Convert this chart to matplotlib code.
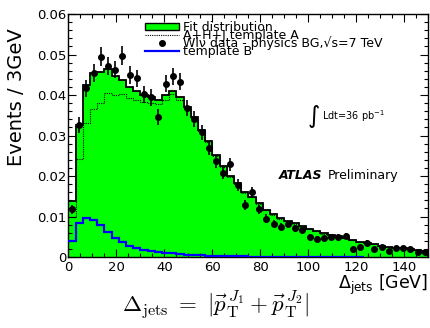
import matplotlib
matplotlib.use('Agg')
import matplotlib.pyplot as plt
from matplotlib.ticker import MultipleLocator, FuncFormatter
from matplotlib.patches import Patch
from matplotlib.lines import Line2D
import numpy as np

plt.rcParams['font.family'] = ['DejaVu Sans']
plt.rcParams['mathtext.fontset'] = 'dejavusans'

# 3 GeV bins from 0 to 150
bin_edges = np.arange(0, 151, 3)

fit_distribution = [
    0.0138, 0.0326, 0.0425, 0.0455, 0.0457, 0.0465, 0.0448, 0.0438, 0.0421, 0.0410,
    0.0400, 0.0395, 0.0389, 0.0400, 0.0411, 0.0396, 0.0371, 0.0345, 0.0313, 0.0286,
    0.0252, 0.0224, 0.0199, 0.0182, 0.0161, 0.0149, 0.0133, 0.0117, 0.0105, 0.0096,
    0.0090, 0.0083, 0.0076, 0.0070, 0.0064, 0.0059, 0.0055, 0.0051, 0.0047, 0.0042,
    0.0038, 0.0034, 0.0031, 0.0028, 0.0025, 0.0023, 0.0021, 0.0019, 0.0017, 0.0015,
]

template_a = [
    0.0100, 0.0243, 0.0330, 0.0365, 0.0380, 0.0405, 0.0401, 0.0402, 0.0393, 0.0389,
    0.0383, 0.0381, 0.0377, 0.0389, 0.0402, 0.0388, 0.0365, 0.0340, 0.0310, 0.0283,
    0.0249, 0.0222, 0.0197, 0.0180, 0.0159, 0.0148, 0.0132, 0.0116, 0.0104, 0.0095,
    0.0089, 0.0082, 0.0075, 0.0069, 0.0063, 0.0058, 0.0054, 0.0050, 0.0046, 0.0041,
    0.0037, 0.0034, 0.0031, 0.0028, 0.0025, 0.0023, 0.0021, 0.0019, 0.0017, 0.0015,
]

# template B only filled up to 123 GeV
template_b = [
    0.0040, 0.0084, 0.0097, 0.0091, 0.0078, 0.0061, 0.0048, 0.0036, 0.0027, 0.0021,
    0.0017, 0.0014, 0.0012, 0.0011, 0.0009, 0.0008, 0.0006, 0.0005, 0.0004, 0.0003,
    0.0003, 0.0002, 0.0002, 0.0002, 0.0002, 0.0001, 0.0001, 0.0001, 0.0001, 0.0001,
    0.0001, 0.0001, 0.0001, 0.0001, 0.0001, 0.0001, 0.0001, 0.0001, 0.0001, 0.0001,
    0.0001,
]

data = [
    0.0118, 0.0326, 0.0417, 0.0455, 0.0495, 0.0471, 0.0463, 0.0497, 0.0450, 0.0441,
    0.0402, 0.0394, 0.0346, 0.0428, 0.0446, 0.0433, 0.0368, 0.0341, 0.0308, 0.0270,
    0.0236, 0.0208, 0.0229, 0.0178, 0.0129, 0.0160, 0.0118, 0.0095, 0.0082, 0.0075,
    0.0081, 0.0071, 0.0067, 0.0050, 0.0044, 0.0046, 0.0050, 0.0050, 0.0053, 0.0019,
    0.0025, 0.0035, 0.0020, 0.0025, 0.0016, 0.0021, 0.0021, 0.0020, 0.0013, 0.0012,
]

data_err = [
    0.0011, 0.0019, 0.0021, 0.0022, 0.0023, 0.0022, 0.0022, 0.0023, 0.0022, 0.0022,
    0.0021, 0.0020, 0.0019, 0.0021, 0.0022, 0.0021, 0.0020, 0.0019, 0.0018, 0.0017,
    0.0016, 0.0015, 0.0016, 0.0014, 0.0012, 0.0013, 0.0011, 0.0010, 0.0009, 0.0009,
    0.0009, 0.0009, 0.0008, 0.0007, 0.0007, 0.0007, 0.0007, 0.0007, 0.0007, 0.0005,
    0.0005, 0.0006, 0.0005, 0.0005, 0.0004, 0.0005, 0.0005, 0.0005, 0.0004, 0.0004,
]

GREEN = '#00ff00'

fig = plt.figure(figsize=(4.3, 3.28), dpi=100)
ax = fig.add_axes([0.159, 0.2165, 0.8375, 0.7405])

centers = 0.5 * (bin_edges[:-1] + bin_edges[1:])

ax.stairs(fit_distribution, bin_edges, fill=True, color=GREEN, zorder=1)
ax.stairs(fit_distribution, bin_edges, color='black', linewidth=1.3, baseline=0, zorder=2)
ax.stairs(template_a, bin_edges, color='black', linewidth=0.8,
          linestyle=(0, (1, 1)), baseline=None, zorder=2)
ax.stairs(template_b, bin_edges[:len(template_b) + 1], color='blue',
          linewidth=1.6, baseline=None, zorder=3)
ax.errorbar(centers, data, yerr=data_err, fmt='o', color='black', ms=4,
            elinewidth=1.2, capsize=0, zorder=4)

ax.set_xlim(0, 150)
ax.set_ylim(0, 0.06)

ax.xaxis.set_major_locator(MultipleLocator(20))
ax.xaxis.set_minor_locator(MultipleLocator(5))
ax.yaxis.set_major_locator(MultipleLocator(0.01))
ax.yaxis.set_minor_locator(MultipleLocator(0.002))
ax.yaxis.set_major_formatter(FuncFormatter(lambda v, p: '0' if abs(v) < 1e-9 else '%.2f' % v))

ax.tick_params(which='both', direction='in', top=True, right=True, labelsize=9.5)
ax.tick_params(which='major', length=6, width=0.8)
ax.tick_params(which='minor', length=3, width=0.8)
ax.tick_params(axis='x', pad=3)
ax.tick_params(axis='y', pad=1.5)
for s in ax.spines.values():
    s.set_linewidth(1.0)

# legend (rows overlap slightly, as in the original)
handles = [
    Patch(facecolor=GREEN, edgecolor='black', linewidth=1.0),
    Line2D([], [], color='black', linewidth=0.8, linestyle=(0, (1, 1))),
    Line2D([], [], color='black', marker='o', ms=4, linestyle='none'),
    Line2D([], [], color='blue', linewidth=1.6),
]
labels = [
    'Fit distribution',
    'A+H+J template A',
    'Wl\u03bd data - physics BG,\u221as=7 TeV',
    'template B',
]
ax.legend(handles, labels, loc='upper left', bbox_to_anchor=(0.2125, 0.972),
          frameon=False, fontsize=9, borderpad=0, borderaxespad=0,
          handlelength=2.7, handleheight=0.55, handletextpad=0.35,
          labelspacing=-0.42)

# luminosity and ATLAS label
ax.text(0.665, 0.58, '\u222b', transform=ax.transAxes, fontsize=17,
        ha='left', va='center')
ax.text(0.704, 0.58, 'Ldt=36 pb$^{-1}$', transform=ax.transAxes, fontsize=7,
        ha='left', va='center')
ax.text(0.585, 0.337, 'ATLAS', transform=ax.transAxes,
        fontsize=9, fontweight='bold', fontstyle='italic', ha='left', va='center')
ax.text(0.72, 0.337, 'Preliminary', transform=ax.transAxes, fontsize=9,
        ha='left', va='center')

fig.text(0.038, 0.915, 'Events / 3GeV', rotation=90, fontsize=14,
         ha='center', va='top')
fig.text(0.995, 0.132, r'$\Delta_{\mathrm{jets}}$ [GeV]', fontsize=12.5,
         ha='right', va='center')
fig.text(0.5, 0.07, r'$\Delta_{\rm jets}\ =\ |\vec{p}_{\rm T}^{\,J_1} + \vec{p}_{\rm T}^{\,J_2}|$',
         fontsize=16.5, ha='center', va='center', math_fontfamily='cm')

fig.savefig('out.png', dpi=100)
